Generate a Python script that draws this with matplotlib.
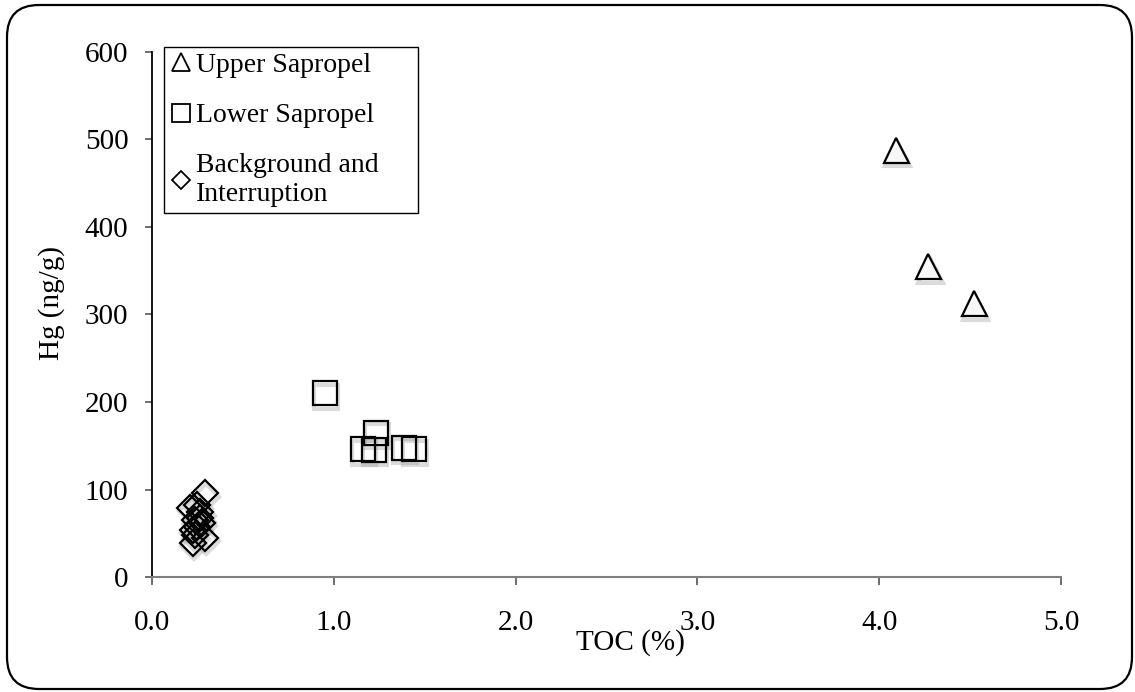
import matplotlib
matplotlib.use("Agg")
import matplotlib.pyplot as plt
from matplotlib.lines import Line2D
from matplotlib.patches import FancyBboxPatch
from matplotlib import transforms

plt.rcParams['font.family'] = ['Liberation Serif', 'DejaVu Serif']
plt.rcParams['font.size'] = 21

# TOC (%) and Hg (ng/g) per unit
upper_toc = [4.09, 4.27, 4.52]
upper_hg = [488, 355, 313]

lower_toc = [0.95, 1.16, 1.22, 1.23, 1.385, 1.44]
lower_hg = [210, 146, 145.5, 165, 148, 146]

bg_toc = [0.29, 0.21, 0.25, 0.265, 0.235, 0.25, 0.225, 0.275, 0.235, 0.265, 0.225, 0.29]
bg_hg = [96, 79, 82, 74, 65, 57, 54, 62, 48, 67, 39, 45]

x_ticks = [0, 1, 2, 3, 4, 5]
y_ticks = [0, 100, 200, 300, 400, 500, 600]

fig = plt.figure(figsize=(11.35, 6.92), dpi=100)
ax = fig.add_axes([152 / 1135, 1 - 577 / 692, 909 / 1135, 525 / 692])

series = [
    (upper_toc, upper_hg, '^', 18, '#f7f7f7'),
    (lower_toc, lower_hg, 's', 17, 'none'),
    (bg_toc, bg_hg, 'D', 13.5, 'none'),
]

# soft drop shadow under each marker
shadow = transforms.offset_copy(ax.transData, fig=fig, x=1.5, y=-3.5, units='dots')
for x, y, m, ms, fc in series:
    ax.plot(x, y, ls='none', marker=m, ms=ms, mfc='none', mec='#999999',
            mew=3, alpha=0.35, transform=shadow, zorder=2)
for x, y, m, ms, fc in series:
    ax.plot(x, y, ls='none', marker=m, ms=ms, mfc=fc, mec='black', mew=1.6, zorder=3)

ax.set_xlim(0, 5)
ax.set_ylim(0, 600)
ax.set_xticks(x_ticks)
ax.set_xticklabels([f"{t:.1f}" for t in x_ticks])
ax.set_yticks(y_ticks)

ax.spines['top'].set_visible(False)
ax.spines['right'].set_visible(False)
ax.spines['left'].set_color('black')
ax.spines['left'].set_linewidth(1.3)
ax.spines['bottom'].set_color('#7f7f7f')
ax.spines['bottom'].set_linewidth(1.5)
ax.tick_params(axis='x', direction='out', length=6, width=1.2, color='#555555', pad=18)
ax.tick_params(axis='y', direction='out', length=5, width=1.2, color='#555555', pad=12)

fig.text(630 / 1135, 1 - 643 / 692, 'TOC (%)', ha='center', va='center')
fig.text(52 / 1135, 1 - 303 / 692, 'Hg (ng/g)', rotation=90, ha='center', va='center')

handles = [
    Line2D([], [], ls='none', marker='^', ms=13, mfc='white', mec='black', mew=1.3),
    Line2D([], [], ls='none', marker='s', ms=13, mfc='white', mec='black', mew=1.3),
    Line2D([], [], ls='none', marker='D', ms=9, mfc='white', mec='black', mew=1.3),
]
labels = ['Upper Sapropel', 'Lower Sapropel', 'Background and\nInterruption']
leg = ax.legend(handles, labels, loc='upper left',
                bbox_to_anchor=(164 / 1135, 1 - 213 / 692, 254 / 1135, 166 / 692),
                bbox_transform=fig.transFigure, mode='expand',
                frameon=True, fancybox=False, framealpha=1, borderpad=0.2,
                labelspacing=0.9, handletextpad=0.15, handlelength=0.8,
                borderaxespad=0, fontsize=20)
leg.get_frame().set_edgecolor('black')
leg.get_frame().set_linewidth(1.0)

border = FancyBboxPatch((0.07, 0.03), 11.25, 6.84,
                        boxstyle='round,pad=0,rounding_size=0.32',
                        transform=fig.dpi_scale_trans, fill=False,
                        edgecolor='black', linewidth=1.6)
fig.add_artist(border)

fig.savefig('out.png', dpi=100)
